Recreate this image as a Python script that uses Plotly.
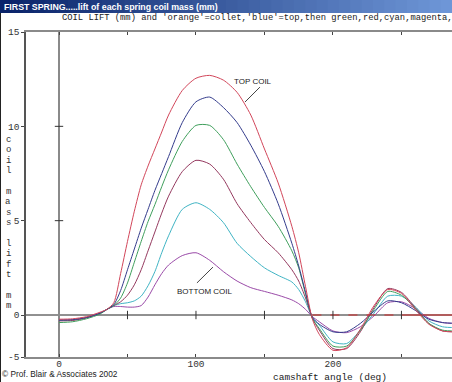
import plotly.graph_objects as go

# ---------------- data ----------------
angle_deg = [0, 10, 20, 30, 35, 40, 45, 50, 55, 60, 65, 70, 75, 80, 90, 100, 110, 120, 130, 140,
             150, 160, 170, 175, 180, 185, 190, 200, 210, 220, 230, 240, 250, 260, 270, 280, 290]

lift_top_red = [-0.5, -0.45, -0.2, 0.15, 0.3, 0.65, 2.2, 3.9, 5.5, 6.9, 7.9, 8.8, 9.7, 10.6, 11.9, 12.55, 12.7, 12.45, 11.8, 10.6,
                8.8, 7.0, 4.7, 3.3, 1.5, -0.5, -2.3, -4.2, -3.9, -1.7, 0.5, 1.35, 1.15, 0.3, -1.1, -1.9, -2.0]
lift_blue = [-0.6, -0.55, -0.3, 0.1, 0.3, 0.55, 1.3, 2.4, 3.5, 4.6, 5.6, 6.6, 7.5, 8.4, 10.2, 11.3, 11.55, 11.0, 10.2, 9.0,
             7.6, 5.9, 3.8, 2.6, 1.2, -0.3, -1.1, -2.0, -2.0, -1.0, 0.2, 0.75, 0.65, 0.25, -0.5, -0.9, -1.0]
lift_green = [-0.9, -0.8, -0.45, 0.05, 0.3, 0.5, 0.9, 1.7, 2.8, 3.9, 4.95, 5.85, 6.8, 7.7, 9.2, 10.05, 10.05, 9.3, 8.0, 6.8,
              5.7, 4.7, 3.4, 2.5, 1.1, -0.4, -1.6, -3.7, -3.7, -1.8, 0.3, 1.25, 1.05, 0.35, -1.0, -1.8, -1.9]
lift_maroon = [-0.7, -0.65, -0.35, 0.1, 0.3, 0.5, 0.7, 1.05, 1.6, 2.4, 3.4, 4.4, 5.4, 6.3, 7.6, 8.2, 8.0, 7.2, 5.9, 4.9,
               4.0, 3.3, 2.4, 1.8, 0.9, -0.4, -1.8, -4.0, -4.0, -2.0, 0.4, 1.4, 1.2, 0.4, -1.0, -1.9, -2.0]
lift_cyan = [-0.65, -0.6, -0.3, 0.1, 0.3, 0.5, 0.6, 0.65, 0.75, 1.0, 1.55, 2.3, 3.3, 4.2, 5.6, 5.95, 5.6, 4.9, 3.8, 3.1,
             2.5, 2.1, 1.75, 1.35, 0.7, -0.3, -1.2, -3.2, -3.4, -1.8, 0.1, 1.0, 1.0, 0.45, -0.7, -1.4, -1.5]
lift_bottom_purple = [-0.6, -0.55, -0.3, 0.1, 0.3, 0.45, 0.45, 0.42, 0.42, 0.5, 0.95, 1.6, 2.2, 2.65, 3.15, 3.3, 2.9, 2.3, 1.8, 1.45,
                      1.25, 1.05, 0.8, 0.6, 0.3, -0.2, -0.8, -1.9, -2.1, -1.4, -0.1, 0.65, 0.7, 0.35, -0.4, -0.9, -1.0]

collet_dash_angle = [185, 250]
collet_dash_lift = [0, 0]
collet_solid_angle = [250, 290]
collet_solid_lift = [0, 0]

y_tick_values = [-5, 0, 5, 10, 15]
x_tick_values = [0, 50, 100, 150, 200, 250]
x_tick_labels = ["0", "", "100", "", "200", ""]
axis_letters = ["c", "o", "i", "l", "", "m", "a", "s", "s", "", "l", "i", "f", "t", "", "m", "m"]

# negative lift is drawn on a compressed scale, as in the original program
NEG_SCALE = 8.4 / 18.87


def to_axis(v):
    return v if v >= 0 else v * NEG_SCALE


W, H = 452, 382
ML, MR, MT, MB = 26, 0, 32, 25
PW, PH = W - ML - MR, H - MT - MB


def pxx(px):
    return (px - ML) / PW


def pxy(py):
    return (H - MB - py) / PH


MONO = "Liberation Mono"
SANS = "Liberation Sans"

fig = go.Figure()

series = [
    (lift_bottom_purple, "#9a4aa8"),
    (lift_cyan, "#3fb4c4"),
    (lift_maroon, "#94385e"),
    (lift_green, "#3f9f5c"),
    (lift_blue, "#343c8c"),
    (lift_top_red, "#d2465a"),
]
for vals, col in series:
    fig.add_trace(go.Scatter(x=angle_deg, y=[to_axis(v) for v in vals], mode="lines",
                             line=dict(color=col, width=1, shape="spline", smoothing=0.7),
                             hoverinfo="skip", showlegend=False))

fig.add_trace(go.Scatter(x=collet_dash_angle, y=collet_dash_lift, mode="lines",
                         line=dict(color="#d22a2a", width=1.2, dash="dash"), showlegend=False, hoverinfo="skip"))
fig.add_trace(go.Scatter(x=collet_solid_angle, y=collet_solid_lift, mode="lines",
                         line=dict(color="#d22a2a", width=1.2), showlegend=False, hoverinfo="skip"))

# tick marks on zero line and on the 0-deg line
fig.add_trace(go.Scatter(x=[50, 100, 150, 200, 250], y=[0] * 5, mode="markers",
                         marker=dict(symbol="line-ns", size=6, line=dict(color="#333", width=1)),
                         showlegend=False, hoverinfo="skip"))
fig.add_trace(go.Scatter(x=[0, 0], y=[5, 10], mode="markers",
                         marker=dict(symbol="line-ew", size=6, line=dict(color="#333", width=1)),
                         showlegend=False, hoverinfo="skip"))

shapes = []
# title bar gradient
n = 40
c0 = (10, 36, 106)
c1 = (110, 150, 215)
for i in range(n):
    t = i / (n - 1)
    col = "rgb(%d,%d,%d)" % tuple(int(c0[k] + (c1[k] - c0[k]) * t) for k in range(3))
    shapes.append(dict(type="rect", xref="paper", yref="paper",
                       x0=pxx(W * i / n), x1=pxx(W * (i + 1) / n + 1), y0=pxy(13), y1=pxy(0),
                       fillcolor=col, line=dict(width=0), layer="below"))
# left window edge
shapes.append(dict(type="line", xref="paper", yref="paper", x0=pxx(0.5), x1=pxx(0.5),
                   y0=pxy(382), y1=pxy(13), line=dict(color="#222", width=1)))
# zero line
shapes.append(dict(type="line", xref="paper", yref="y", x0=0, x1=1, y0=0, y1=0,
                   line=dict(color="#222", width=1), layer="below"))
# vertical line at 0 deg
shapes.append(dict(type="line", xref="x", yref="paper", x0=0, x1=0, y0=0, y1=1,
                   line=dict(color="#8a8a8a", width=2), layer="below"))
# leader lines
shapes.append(dict(type="line", xref="x", yref="y", x0=146.7, y0=12.08, x1=135.8, y1=11.29,
                   line=dict(color="#444", width=1)))
shapes.append(dict(type="line", xref="x", yref="y", x0=100.7, y0=1.70, x1=112.4, y1=2.54,
                   line=dict(color="#444", width=1)))

annotations = [
    dict(text="<b>FIRST SPRING.....lift of each spring coil mass (mm)</b>", xref="paper", yref="paper",
         x=pxx(2), y=pxy(6.5), xanchor="left", yanchor="middle", showarrow=False,
         font=dict(family=SANS, size=8.8, color="white")),
    dict(text="COIL LIFT (mm) and 'orange'=collet,'blue'=top,then green,red,cyan,magenta,",
         xref="paper", yref="paper", x=pxx(60), y=pxy(18), xanchor="left", yanchor="middle",
         showarrow=False, font=dict(family=MONO, size=8.8, color="#222")),
    dict(text="\u00a9 Prof. Blair & Associates 2002", xref="paper", yref="paper", x=pxx(0), y=pxy(374),
         xanchor="left", yanchor="middle", showarrow=False, font=dict(family=SANS, size=8.3, color="#222")),
    dict(text="camshaft angle (deg)", xref="paper", yref="paper", x=pxx(330), y=pxy(377),
         xanchor="center", yanchor="middle", showarrow=False, font=dict(family=MONO, size=9.5, color="#222")),
    dict(text="TOP COIL", xref="x", yref="y", x=141.6, y=12.4, xanchor="center", yanchor="middle",
         showarrow=False, font=dict(family=SANS, size=8, color="#222")),
    dict(text="BOTTOM COIL", xref="x", yref="y", x=106.6, y=1.27, xanchor="center", yanchor="middle",
         showarrow=False, font=dict(family=SANS, size=8, color="#222")),
]
for i, ch in enumerate(axis_letters):
    if ch:
        annotations.append(dict(text=ch, xref="paper", yref="paper", x=pxx(8), y=pxy(140 + 10.4 * i),
                                xanchor="center", yanchor="middle", showarrow=False,
                                font=dict(family=MONO, size=9, color="#333")))

fig.update_layout(
    width=W, height=H,
    margin=dict(l=ML, r=MR, t=MT, b=MB, pad=0),
    paper_bgcolor="white", plot_bgcolor="white",
    showlegend=False,
    shapes=shapes, annotations=annotations,
    xaxis=dict(range=[(ML - 59) / 1.3698, (W - 59) / 1.3698], showgrid=False, zeroline=False,
               showline=True, linecolor="#8a8a8a", linewidth=2, mirror="ticks",
               ticks="inside", ticklen=3, tickcolor="#444", tickvals=x_tick_values, ticktext=x_tick_labels,
               ticklabelstandoff=-3,
               tickfont=dict(family=MONO, size=9.5, color="#333")),
    yaxis=dict(range=[to_axis(-5), 15], showgrid=False, zeroline=False,
               showline=True, linecolor="#555", linewidth=1.5,
               ticks="outside", ticklen=3, tickcolor="#444",
               tickvals=[to_axis(v) for v in y_tick_values], ticktext=[str(v) for v in y_tick_values],
               tickfont=dict(family=MONO, size=9.5, color="#333")),
)

fig.write_html("out.html", config={"displayModeBar": False},
               post_script="document.body.style.margin='0';document.body.style.overflow='hidden';")
